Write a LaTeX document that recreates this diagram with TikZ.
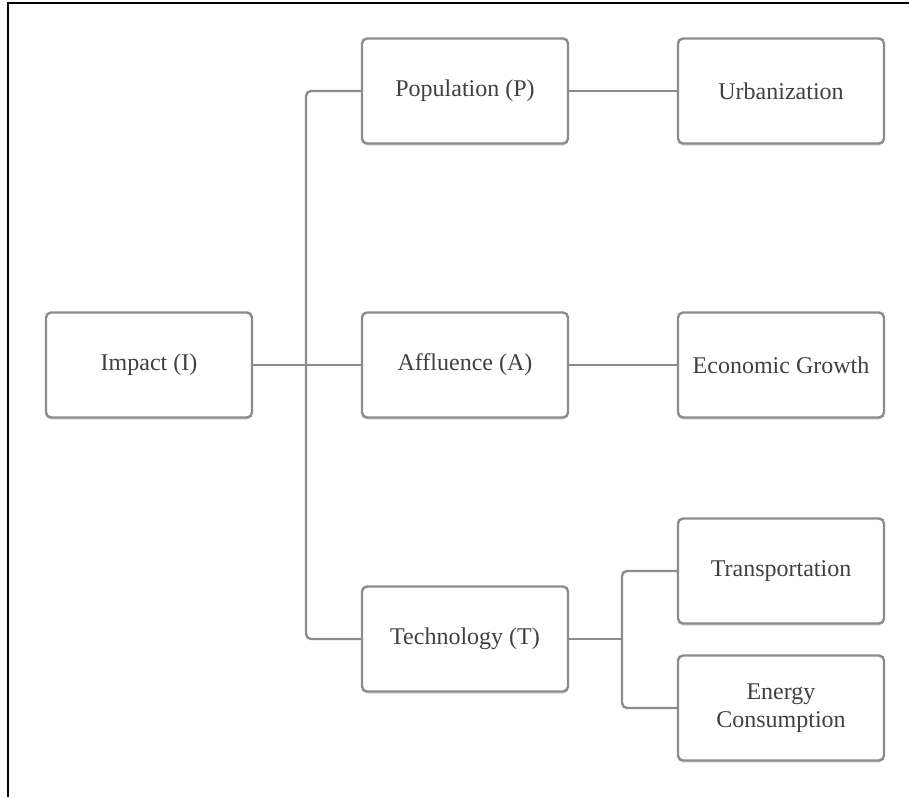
\documentclass[tikz,border=0pt]{standalone}
\usepackage{fontspec}
\setmainfont{Liberation Serif}
\usepackage{tikz}
\usetikzlibrary{positioning}
\usetikzlibrary{shadows}
\definecolor{boxgray}{rgb}{0.55,0.55,0.55}
\definecolor{textgray}{rgb}{0.25,0.25,0.25}

\begin{document}
\begin{tikzpicture}[x=0.5pt,y=-0.5pt,
    factor/.style={draw=boxgray, line width=1.2pt, rounded corners=2.5pt, fill=white,
        minimum width=103pt, minimum height=52.5pt, align=center,
        font=\fontsize{12}{14}\selectfont, text=textgray,
        drop shadow={shadow xshift=0pt, shadow yshift=-1pt, fill=black!25, opacity=0.6}},
    link/.style={draw=boxgray, line width=1.2pt, rounded corners=2.5pt}]
            \useasboundingbox (0,0) rectangle (909,797);
            \draw[black, line width=1pt] (8,797) -- (8,3) -- (909,3);
            % factors
            \node[factor] (impact) at (149,365) {Impact (I)};
            \node[factor] (population) at (465,91) {Population (P)};
            \node[factor] (affluence) at (465,365) {Affluence (A)};
            \node[factor] (technology) at (465,639) {Technology (T)};
            % drivers
            \node[factor] (urban) at (781,91) {Urbanization};
            \node[factor] (growth) at (781,365) {Economic Growth};
            \node[factor] (transport) at (781,571) {Transportation};
            \node[factor] (energy) at (781,708) {Energy\\Consumption};
            \coordinate (trunk) at (306,365);
            \coordinate (split) at (622,639);
            % connectors
            \draw[link] (impact) -- (affluence);
            \draw[link] (population.west) -| (trunk) |- (technology.west);
            \draw[link] (population) -- (urban);
            \draw[link] (affluence) -- (growth);
            \draw[link] (technology.east) -- (split);
            \draw[link] (transport.west) -| (split) |- (energy.west);
\end{tikzpicture}
\end{document}
